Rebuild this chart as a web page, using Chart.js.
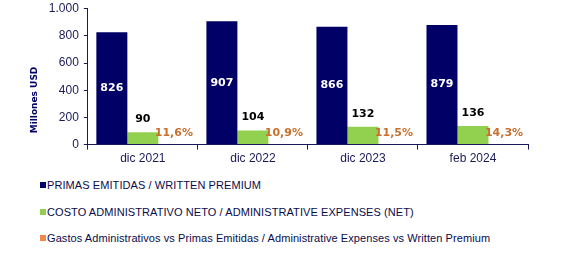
<!DOCTYPE html>
<html>
<head>
<meta charset="utf-8">
<script src="https://cdn.jsdelivr.net/npm/chart.js@4.4.1/dist/chart.umd.min.js"></script>
<style>
    html, body { margin: 0; padding: 0; background: #fff; }
    #wrap { position: relative; width: 564px; height: 259px; }
    #chart { position: absolute; left: 0; top: 0; }
    #legend { position: absolute; left: 40px; top: 178px; font-family: "Liberation Sans", Arial, sans-serif; font-size: 11px; letter-spacing: 0.08px; color: #0b0b4a; }
    .item { height: 26.5px; line-height: 14px; white-space: nowrap; }
    .box { display: inline-block; width: 6px; height: 6px; margin-right: 1px; vertical-align: 1px; }
</style>
</head>
<body>
<div id="wrap">
    <canvas id="chart" width="564" height="168"></canvas>
    <div id="legend"></div>
</div>
<script>
const categories = ['dic 2021', 'dic 2022', 'dic 2023', 'feb 2024'];
const primas = [826, 907, 866, 879];
const costos = [90, 104, 132, 136];
const ratio = [11.6, 10.9, 11.5, 14.3];
const yTicks = [0, 200, 400, 600, 800, 1000];

const seriesNames = [
    'PRIMAS EMITIDAS / WRITTEN PREMIUM',
    'COSTO ADMINISTRATIVO NETO / ADMINISTRATIVE EXPENSES (NET)',
    'Gastos Administrativos vs Primas Emitidas / Administrative Expenses vs Written Premium'
];
const seriesColors = ['#000066', '#92d050', '#f08a4b'];
const yTitle = 'Millones USD';

function fmtNum(v) {
    return v.toString().replace(/\B(?=(\d{3})+(?!\d))/g, '.');
}

// etiquetas de valores sobre/dentro de las barras
const labelsPlugin = {
    id: 'barLabels',
    afterDatasetsDraw(chart) {
        const ctx = chart.ctx;
        ctx.save();
        ctx.font = 'bold 11px "DejaVu Sans", Verdana, sans-serif';
        ctx.textBaseline = 'middle';
        chart.getDatasetMeta(0).data.forEach((bar, i) => {
            ctx.fillStyle = '#ffffff';
            ctx.textAlign = 'center';
            ctx.fillText(fmtNum(primas[i]), bar.x, (bar.y + bar.base) / 2);
        });
        chart.getDatasetMeta(1).data.forEach((bar, i) => {
            ctx.fillStyle = '#000000';
            ctx.textAlign = 'center';
            ctx.fillText(fmtNum(costos[i]), bar.x, bar.y - 13);
        });
        chart.getDatasetMeta(2).data.forEach((bar, i) => {
            ctx.fillStyle = '#c8702e';
            ctx.textAlign = 'center';
            ctx.fillText(ratio[i].toFixed(1).replace('.', ',') + '%', bar.x, bar.y - 10);
        });

        // titulo del eje Y, algo mas abajo que el centro (como en Excel)
        ctx.font = 'bold 9px "DejaVu Sans", Verdana, sans-serif';
        ctx.fillStyle = '#000066';
        ctx.textAlign = 'center';
        ctx.translate(35, 100);
        ctx.rotate(-Math.PI / 2);
        ctx.fillText(yTitle, 0, 0);
        ctx.restore();
    }
};

const ctx = document.getElementById('chart').getContext('2d');
const chart = new Chart(ctx, {
    type: 'bar',
    data: {
        labels: categories,
        datasets: [
            { label: seriesNames[0], data: primas, backgroundColor: seriesColors[0] },
            { label: seriesNames[1], data: costos, backgroundColor: seriesColors[1] },
            { label: seriesNames[2], data: ratio, backgroundColor: 'rgba(0,0,0,0)' }
        ]
    },
    options: {
        responsive: false,
        animation: false,
        layout: { padding: { left: 29, right: 36, top: 0, bottom: 0 } },
        datasets: { bar: { barPercentage: 1, categoryPercentage: 0.845 } },
        plugins: {
            legend: { display: false },
            tooltip: { enabled: false }
        },
        scales: {
            x: {
                grid: { drawOnChartArea: false, color: '#1a1a5a', tickLength: 5, offset: true },
                border: { color: '#1a1a5a', width: 1 },
                ticks: { color: '#1a1a5a', font: { family: '"Liberation Sans", Arial', size: 12 }, padding: 2 }
            },
            y: {
                min: 0,
                max: 1000,
                afterBuildTicks: (axis) => { axis.ticks = yTicks.map(v => ({ value: v })); },
                grid: { drawOnChartArea: false, color: '#1a1a5a', tickLength: 4 },
                border: { color: '#1a1a5a', width: 1 },
                ticks: {
                    color: '#1a1a5a',
                    font: { family: '"Liberation Sans", Arial', size: 12, lineHeight: 0.6 },
                    padding: 5,
                    callback: (v) => fmtNum(v)
                },
                // reserva el espacio del titulo; se dibuja en el plugin
                title: {
                    display: true,
                    text: yTitle,
                    color: 'rgba(0,0,0,0)',
                    font: { family: '"DejaVu Sans", Verdana', size: 9, weight: 'bold' },
                    padding: { top: 0, bottom: 4 }
                }
            }
        }
    },
    plugins: [labelsPlugin]
});

// leyenda vertical en HTML
const legend = document.getElementById('legend');
seriesNames.forEach((name, i) => {
    const row = document.createElement('div');
    row.className = 'item';
    row.innerHTML = '<span class="box" style="background:' + seriesColors[i] + '"></span>' + name;
    legend.appendChild(row);
});
</script>
</body>
</html>
